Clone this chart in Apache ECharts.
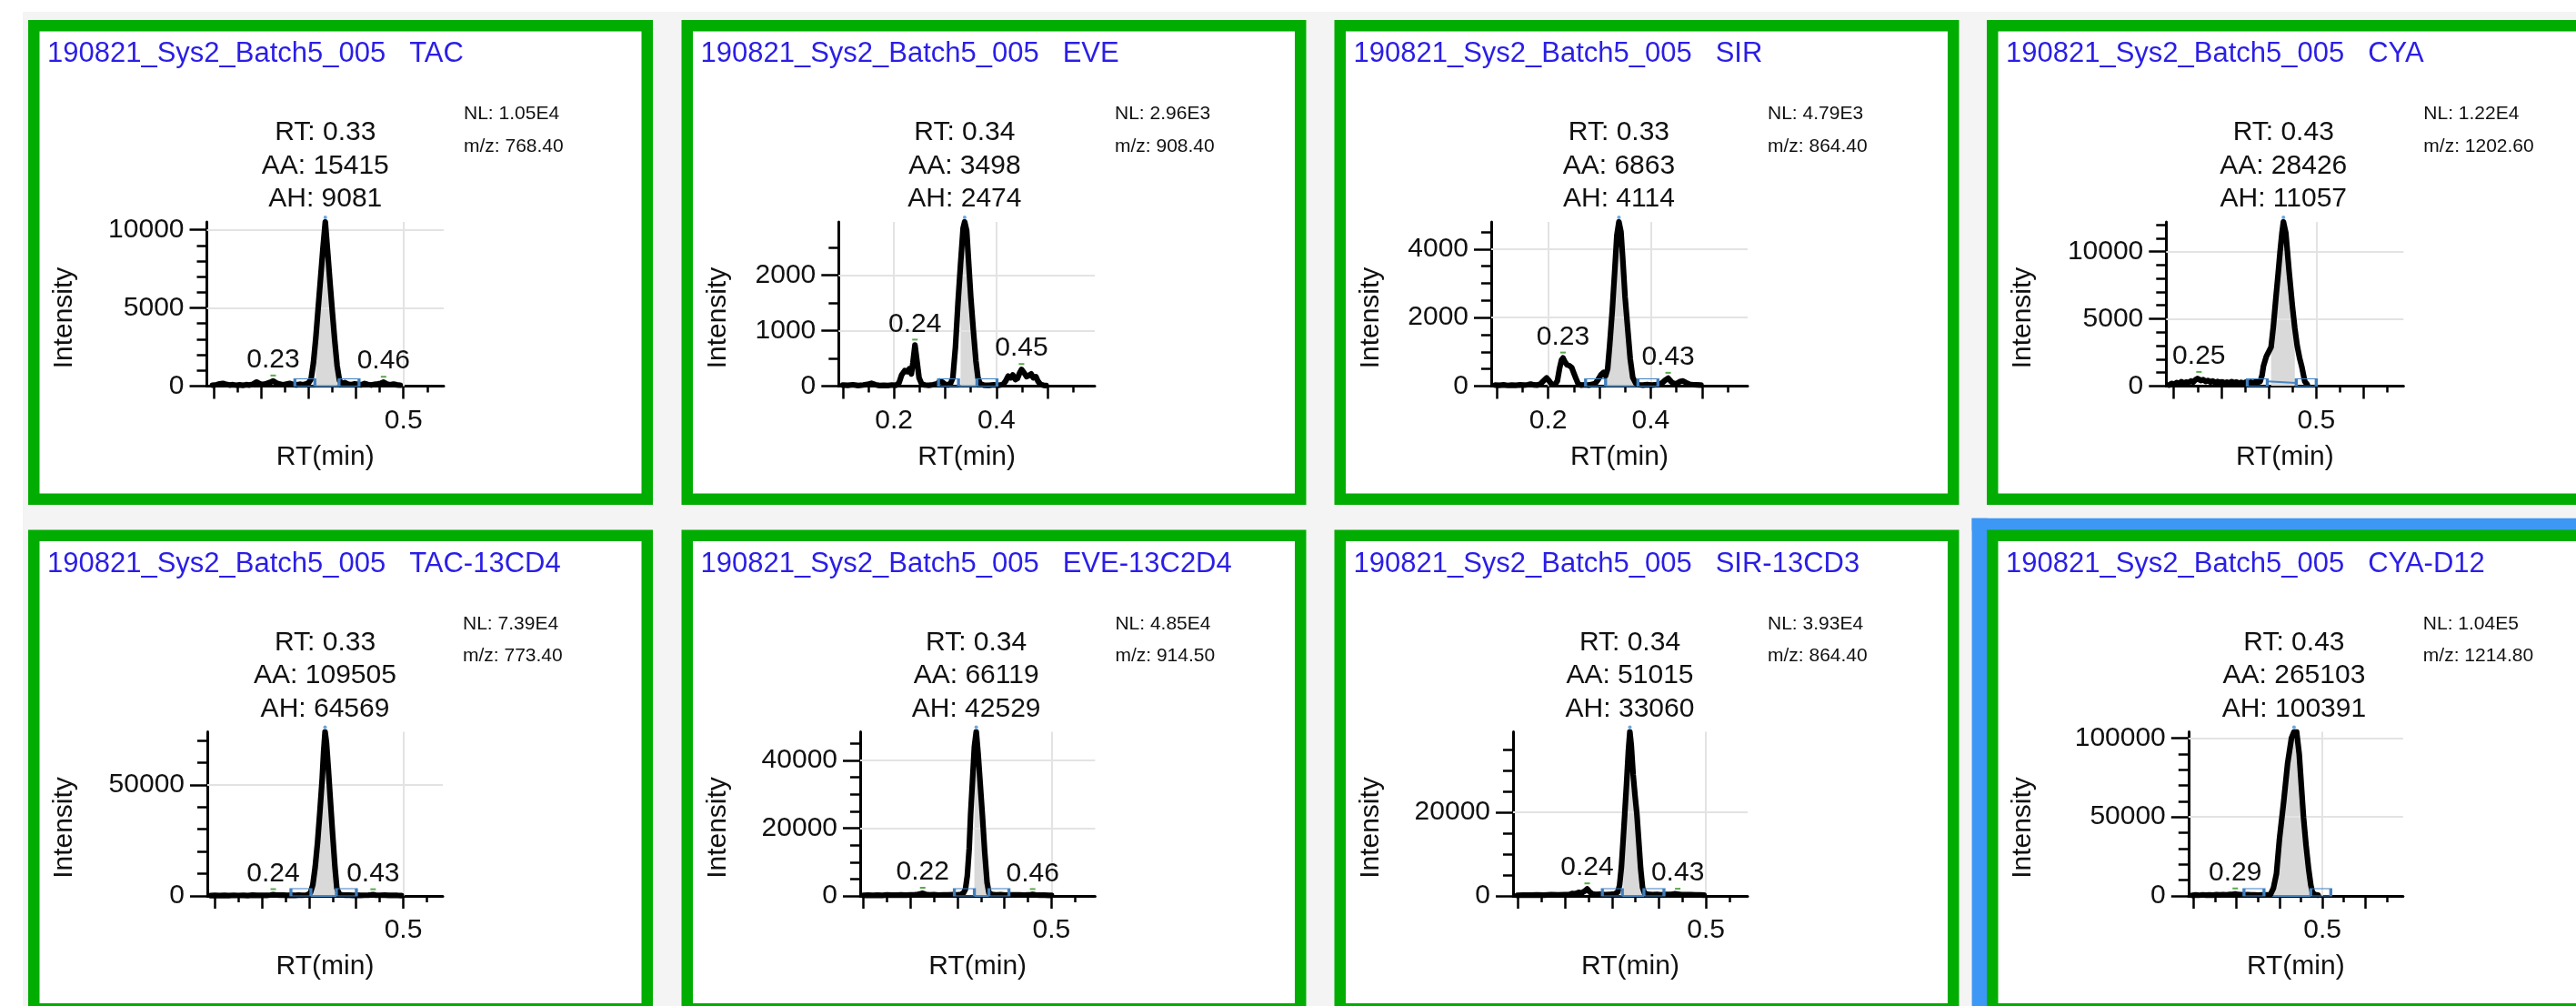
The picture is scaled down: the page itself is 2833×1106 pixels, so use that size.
<!DOCTYPE html>
<html>
<head>
<meta charset="UTF-8">
<title>XIC 190821_Sys2_Batch5_005</title>
<style>
html, body { margin: 0; height: 100%; background: #f4f4f4; }
#container { width: 2833px; height: 1106px; }
</style>
</head>
<body>
<div id="container"></div>
<script src="https://cdn.jsdelivr.net/npm/echarts@6/dist/echarts.min.js"></script>
<script>
var sample = '190821_Sys2_Batch5_005';
var names = ['TAC', 'EVE', 'SIR', 'CYA', 'TAC-13CD4', 'EVE-13C2D4', 'SIR-13CD3', 'CYA-D12'];
var nl = [10500, 2960, 4790, 12200, 73900, 48500, 39300, 104000];
var mz = [768.40, 908.40, 864.40, 1202.60, 773.40, 914.50, 864.40, 1214.80];
var rt = [0.33, 0.34, 0.33, 0.43, 0.33, 0.34, 0.34, 0.43];
var aa = [15415, 3498, 6863, 28426, 109505, 66119, 51015, 265103];
var ah = [9081, 2474, 4114, 11057, 64569, 42529, 33060, 100391];

// axis ranges and tick labels
var xMin = [0.085, 0.092, 0.089, 0.184, 0.084, 0.093, 0.089, 0.188];
var xSpan = 0.5;
var xLabels = [[0.5], [0.2, 0.4], [0.2, 0.4], [0.5], [0.5], [0.5], [0.5], [0.5]];
var yLabels = [[0, 5000, 10000], [0, 1000, 2000], [0, 2000, 4000], [0, 5000, 10000],
               [0, 50000], [0, 20000, 40000], [0, 20000], [0, 50000, 100000]];
var yMinorStep = [1000, 500, 500, 1000, 10000, 5000, 5000, 10000];

// integration limits and baseline heights
var bounds = [[0.313, 0.364], [0.326, 0.362], [0.312, 0.375], [0.397, 0.458],
              [0.304, 0.358], [0.336, 0.367], [0.322, 0.368], [0.364, 0.473]];
var baseY = [[0, 0], [0, 0], [0, 0], [350, 230], [0, 0], [0, 0], [0, 0], [0, 0]];

// small labelled peaks
var peakText = [['0.23', '0.46'], ['0.24', '0.45'], ['0.23', '0.43'], ['0.25'],
                ['0.24', '0.43'], ['0.22', '0.46'], ['0.24', '0.43'], ['0.29']];
var peakAt = [[[0.225, 330], [0.458, 250]], [[0.241, 740], [0.449, 300]], [[0.229, 820], [0.434, 230]], [[0.253, 650]],
              [[0.224, 600], [0.436, 560]], [[0.226, 800], [0.46, 420]], [[0.247, 1700], [0.44, 420]], [[0.297, 1300]]];

// chromatograms [RT, intensity]
var tac = [[0.097,60],[0.105,90],[0.112,140],[0.119,170],[0.126,110],[0.133,70],[0.14,90],[0.147,60],[0.154,80],[0.161,50],[0.168,90],[0.175,70],[0.182,120],[0.19,260],[0.197,150],[0.204,100],[0.211,160],[0.218,230],[0.225,330],[0.232,200],[0.239,120],[0.246,90],[0.253,130],[0.26,170],[0.267,110],[0.274,80],[0.281,120],[0.288,90],[0.295,140],[0.3,220],[0.305,450],[0.31,1500],[0.315,3100],[0.32,5000],[0.325,6900],[0.33,8800],[0.335,10500],[0.34,8600],[0.345,6600],[0.35,4700],[0.355,2900],[0.36,1300],[0.365,350],[0.37,180],[0.376,220],[0.383,130],[0.39,90],[0.397,150],[0.404,110],[0.411,80],[0.418,170],[0.425,100],[0.432,70],[0.439,110],[0.446,140],[0.452,180],[0.458,250],[0.465,130],[0.472,90],[0.479,130],[0.486,80],[0.493,60]];
var eve = [[0.1,20],[0.11,15],[0.12,25],[0.13,10],[0.14,20],[0.148,30],[0.156,50],[0.164,25],[0.172,10],[0.18,15],[0.188,10],[0.196,20],[0.204,15],[0.21,60],[0.215,200],[0.221,280],[0.226,260],[0.23,310],[0.234,220],[0.237,420],[0.241,740],[0.245,450],[0.249,150],[0.254,40],[0.26,20],[0.268,15],[0.276,25],[0.284,40],[0.29,90],[0.295,70],[0.3,30],[0.306,20],[0.311,60],[0.315,150],[0.32,700],[0.325,1500],[0.33,2200],[0.335,2850],[0.338,2960],[0.342,2800],[0.346,2200],[0.35,1600],[0.355,1000],[0.36,450],[0.364,150],[0.368,40],[0.375,20],[0.385,15],[0.395,25],[0.405,15],[0.413,30],[0.418,90],[0.423,180],[0.428,150],[0.432,200],[0.437,120],[0.441,140],[0.445,230],[0.449,300],[0.454,240],[0.459,170],[0.463,190],[0.468,220],[0.472,150],[0.477,170],[0.481,90],[0.486,30],[0.492,15],[0.497,10]];
var sir = [[0.097,30],[0.105,25],[0.113,35],[0.121,20],[0.129,30],[0.137,25],[0.145,35],[0.153,30],[0.16,40],[0.166,60],[0.172,35],[0.178,30],[0.184,50],[0.19,140],[0.197,240],[0.202,150],[0.207,50],[0.213,40],[0.218,150],[0.222,500],[0.226,760],[0.229,820],[0.233,700],[0.237,620],[0.241,600],[0.246,540],[0.25,380],[0.254,230],[0.259,50],[0.265,30],[0.272,40],[0.279,30],[0.286,50],[0.292,80],[0.297,180],[0.303,330],[0.308,400],[0.312,300],[0.316,500],[0.32,1200],[0.325,2200],[0.33,3400],[0.334,4400],[0.338,4790],[0.342,4500],[0.346,3600],[0.35,2600],[0.355,1700],[0.36,800],[0.365,250],[0.371,80],[0.377,40],[0.385,30],[0.393,45],[0.401,30],[0.409,40],[0.416,50],[0.422,90],[0.428,170],[0.434,230],[0.44,130],[0.446,60],[0.452,90],[0.458,140],[0.463,150],[0.469,100],[0.476,50],[0.483,40],[0.49,35],[0.498,30]];
var cya = [[0.19,80],[0.196,200],[0.201,120],[0.206,260],[0.211,180],[0.216,330],[0.221,220],[0.226,300],[0.231,250],[0.236,380],[0.241,300],[0.246,480],[0.25,560],[0.253,650],[0.257,420],[0.262,480],[0.267,350],[0.272,420],[0.277,300],[0.282,380],[0.287,260],[0.292,340],[0.297,280],[0.302,320],[0.307,220],[0.312,300],[0.317,240],[0.322,330],[0.327,250],[0.332,300],[0.337,200],[0.342,280],[0.347,220],[0.352,300],[0.357,240],[0.362,290],[0.367,250],[0.372,320],[0.377,280],[0.382,350],[0.386,800],[0.389,1500],[0.395,2200],[0.405,2900],[0.41,4500],[0.415,6500],[0.42,8400],[0.424,10000],[0.428,11400],[0.431,12200],[0.436,11400],[0.443,8500],[0.45,5900],[0.455,4300],[0.46,3000],[0.465,2100],[0.47,1400],[0.476,350],[0.481,120]];
var tacIS = [[0.091,150],[0.1,230],[0.11,180],[0.12,260],[0.13,170],[0.14,300],[0.15,210],[0.16,270],[0.17,190],[0.18,320],[0.19,240],[0.2,300],[0.21,260],[0.218,420],[0.224,600],[0.23,400],[0.238,320],[0.246,380],[0.254,270],[0.262,350],[0.27,290],[0.278,380],[0.286,300],[0.294,420],[0.299,700],[0.303,1500],[0.308,5000],[0.313,13000],[0.318,24000],[0.323,38000],[0.328,53000],[0.331,65000],[0.334,73900],[0.337,69000],[0.341,57000],[0.345,44000],[0.35,28000],[0.355,13000],[0.359,3500],[0.364,900],[0.37,420],[0.378,320],[0.386,380],[0.394,270],[0.402,340],[0.41,260],[0.418,310],[0.426,380],[0.431,450],[0.436,560],[0.442,380],[0.45,300],[0.46,340],[0.47,260],[0.48,300],[0.488,220],[0.496,180]];
var eveIS = [[0.1,150],[0.11,230],[0.12,170],[0.13,260],[0.14,190],[0.15,280],[0.16,210],[0.17,250],[0.18,310],[0.19,240],[0.2,290],[0.21,350],[0.216,450],[0.221,620],[0.226,800],[0.232,480],[0.24,330],[0.25,380],[0.26,270],[0.27,340],[0.28,300],[0.29,360],[0.3,320],[0.308,480],[0.313,900],[0.317,2000],[0.321,6000],[0.325,14000],[0.328,24000],[0.332,34000],[0.336,44000],[0.34,48500],[0.344,42000],[0.348,34000],[0.353,24000],[0.358,13000],[0.363,4000],[0.367,900],[0.373,450],[0.382,320],[0.392,380],[0.402,260],[0.412,330],[0.422,280],[0.432,320],[0.442,270],[0.451,340],[0.456,360],[0.46,420],[0.466,300],[0.475,260],[0.485,230],[0.495,190],[0.5,160]];
var sirIS = [[0.098,150],[0.11,220],[0.125,180],[0.14,260],[0.155,200],[0.17,300],[0.185,240],[0.2,320],[0.21,380],[0.216,600],[0.222,500],[0.229,850],[0.235,700],[0.241,1100],[0.247,1700],[0.252,1000],[0.258,500],[0.265,350],[0.275,420],[0.285,300],[0.295,380],[0.305,450],[0.312,900],[0.316,2500],[0.32,7000],[0.324,14000],[0.327,19500],[0.331,27000],[0.335,35000],[0.338,39300],[0.341,36000],[0.345,29000],[0.349,24000],[0.353,19500],[0.357,13000],[0.361,6500],[0.365,2000],[0.369,700],[0.376,400],[0.386,320],[0.396,380],[0.406,280],[0.416,340],[0.426,380],[0.433,500],[0.44,420],[0.448,330],[0.458,280],[0.468,300],[0.478,240],[0.488,260],[0.496,200]];
var cyaIS = [[0.197,400],[0.205,600],[0.213,450],[0.221,700],[0.229,500],[0.237,650],[0.245,550],[0.253,800],[0.261,600],[0.269,750],[0.277,650],[0.285,900],[0.291,1000],[0.297,1300],[0.303,900],[0.31,800],[0.318,650],[0.326,800],[0.334,600],[0.342,700],[0.35,550],[0.358,650],[0.366,600],[0.373,700],[0.379,900],[0.386,5000],[0.393,14000],[0.4,36000],[0.41,60000],[0.419,84000],[0.428,100000],[0.434,104000],[0.44,104000],[0.446,90000],[0.452,66000],[0.456,50000],[0.462,32000],[0.468,17000],[0.473,7000],[0.477,2000],[0.483,800],[0.49,500]];
var traces = [tac, eve, sir, cya, tacIS, eveIS, sirIS, cyaIS];

// page layout (pixels)
var colX = [31, 749.5, 1467.5, 2185];
var rowY = [22, 582.5];
var plotL = [227.5, 922.3, 1640, 2382.3, 228, 946, 1664, 2406.8];
var plotR = [488, 1204, 1922, 2643.3, 487, 1204.4, 1922, 2642.8];

var FONT = '"Liberation Sans", Arial, sans-serif';
var GREEN = '#00ad00';
var BLUE_TXT = '#2a1ee6';

function r3(v) { return Math.round(v * 1000) / 1000; }
function nlText(v) { return v.toExponential(2).replace('e+', 'E'); }

var grids = [], xAxes = [], yAxes = [], series = [];
var graphics = [
    { type: 'rect', z: -20, shape: { x: 0, y: 0, width: 2833, height: 13 }, style: { fill: '#fff' } },
    { type: 'rect', z: -20, shape: { x: 0, y: 0, width: 25, height: 1106 }, style: { fill: '#fff' } },
    { type: 'rect', z: -19, shape: { x: 2168.6, y: 569.7, width: 17, height: 600 }, style: { fill: '#3d97f5' } },
    { type: 'rect', z: -19, shape: { x: 2168.6, y: 569.7, width: 700, height: 13.5 }, style: { fill: '#3d97f5' } }
];

names.forEach(function (name, i) {
    var col = i % 4, row = Math.floor(i / 4);
    var ox = colX[col], oy = rowY[row];
    var x0 = xMin[i], x1 = xMin[i] + xSpan;

    graphics.push({ type: 'rect', z: -18, shape: { x: ox + 6.25, y: oy + 6.25, width: 674.5, height: 520.5 },
        style: { fill: '#fff', stroke: GREEN, lineWidth: 12.5 } });
    graphics.push({ type: 'text', z: 50, x: ox + 21, y: oy + 37.5,
        style: { text: sample + '   ' + name, fontSize: 31, fontFamily: FONT, fill: BLUE_TXT,
                 align: 'left', verticalAlign: 'middle', textAlign: 'left', textVerticalAlign: 'middle' } });
    graphics.push({ type: 'text', z: 50, x: plotR[i] + 22, y: oy + 103.3,
        style: { text: 'NL: ' + nlText(nl[i]), fontSize: 21, fontFamily: FONT, fill: '#111',
                 align: 'left', verticalAlign: 'middle', textAlign: 'left', textVerticalAlign: 'middle' } });
    graphics.push({ type: 'text', z: 50, x: plotR[i] + 22, y: oy + 139.2,
        style: { text: 'm/z: ' + mz[i].toFixed(2), fontSize: 21, fontFamily: FONT, fill: '#111',
                 align: 'left', verticalAlign: 'middle', textAlign: 'left', textVerticalAlign: 'middle' } });
    graphics.push({ type: 'text', z: 50, x: ox + 40, y: oy + 327.5, rotation: Math.PI / 2,
        style: { text: 'Intensity', fontSize: 30, fontFamily: FONT, fill: '#111',
                 align: 'center', verticalAlign: 'middle', textAlign: 'center', textVerticalAlign: 'middle' } });

    grids.push({ left: plotL[i], top: oy + 222, width: plotR[i] - plotL[i], height: 180.5,
                 containLabel: false, outerBoundsMode: 'none' });

    // tick positions
    var xMajor = [], xMinor = [];
    for (var k = Math.ceil(x0 / 0.05 - 1e-6); k * 0.05 <= x1 + 1e-9; k++) {
        (k % 2 === 0 ? xMajor : xMinor).push(r3(k * 0.05));
    }
    var yMinor = [];
    for (var v = 0; v <= nl[i]; v += yMinorStep[i]) {
        if (yLabels[i].indexOf(v) < 0) yMinor.push(v);
    }

    var tickStyle = { color: '#000', width: 2.5 };
    var labelStyle = { fontSize: 30, color: '#111', fontFamily: FONT };

    xAxes.push({
        type: 'value', gridIndex: i, position: 'bottom', min: x0, max: x1,
        axisLine: { show: true, onZero: false, lineStyle: { color: '#000', width: 3 } },
        axisTick: { show: true, customValues: xMajor, length: 14, lineStyle: tickStyle },
        axisLabel: Object.assign({ show: true, customValues: xLabels[i], margin: 23,
            formatter: function (val) { return String(r3(val)); } }, labelStyle),
        splitLine: { show: false },
        name: 'RT(min)', nameLocation: 'middle', nameGap: 63,
        nameTextStyle: labelStyle
    });
    xAxes.push({
        type: 'value', gridIndex: i, position: 'bottom', min: x0, max: x1,
        axisLine: { show: false },
        axisTick: { show: true, customValues: xMinor, length: 7, lineStyle: tickStyle },
        axisLabel: { show: false }, splitLine: { show: false }
    });
    yAxes.push({
        type: 'value', gridIndex: i, position: 'left', min: 0, max: nl[i],
        axisLine: { show: true, onZero: false, lineStyle: { color: '#000', width: 3 } },
        axisTick: { show: true, customValues: yLabels[i], length: 19, lineStyle: tickStyle },
        axisLabel: Object.assign({ show: true, customValues: yLabels[i], margin: 25,
            formatter: function (val) { return String(val); } }, labelStyle),
        splitLine: { show: false }
    });
    yAxes.push({
        type: 'value', gridIndex: i, position: 'left', min: 0, max: nl[i],
        axisLine: { show: false },
        axisTick: { show: true, customValues: yMinor, length: 11, lineStyle: tickStyle },
        axisLabel: { show: false }, splitLine: { show: false }
    });

    var data = traces[i];
    var b = bounds[i];
    var fill = data.filter(function (p) { return p[0] >= b[0] && p[0] <= b[1]; });
    var apex = data.reduce(function (m, p) { return p[1] > m[1] ? p : m; }, data[0]);

    var gridLines = xLabels[i].map(function (x) { return { xAxis: x }; })
        .concat(yLabels[i].filter(function (y) { return y > 0; }).map(function (y) { return { yAxis: y }; }));

    var ax = { xAxisIndex: 2 * i, yAxisIndex: 2 * i };

    series.push(Object.assign({
        type: 'line', data: fill, symbol: 'none', silent: true, z: 3,
        lineStyle: { width: 0 }, areaStyle: { color: '#d9d9d9', opacity: 1 },
        markLine: { silent: true, symbol: ['none', 'none'], label: { show: false }, animation: false,
            lineStyle: { color: '#e3e3e3', width: 2, type: 'solid' }, data: gridLines }
    }, ax));
    series.push(Object.assign({
        type: 'line', data: [[b[0], baseY[i][0]], [b[1], baseY[i][1]]], symbol: 'none', silent: true, z: 4,
        lineStyle: { color: '#4a86c0', width: 2 }
    }, ax));
    series.push(Object.assign({
        type: 'line', data: data, symbol: 'none', silent: true, z: 10,
        lineStyle: { color: '#000', width: 6.2, join: 'round', cap: 'round' },
        markPoint: {
            silent: true, animation: false, symbol: 'circle', symbolSize: 4, symbolOffset: [0, -5],
            itemStyle: { color: '#6fa8dc' },
            label: { show: true, position: 'top', distance: 0, fontSize: 30, lineHeight: 36.5,
                color: '#111', fontFamily: FONT, align: 'center',
                formatter: function () { return 'RT: ' + rt[i].toFixed(2) + '\nAA: ' + aa[i] + '\nAH: ' + ah[i]; } },
            data: [{ coord: [apex[0], nl[i]] }]
        }
    }, ax));
    series.push(Object.assign({
        type: 'scatter', silent: true, z: 11, symbol: 'rect', symbolSize: [22, 8],
        itemStyle: { color: 'rgba(255,255,255,0)', borderColor: '#3f7fbf', borderWidth: 2, opacity: 1 },
        data: [{ value: [b[0], 0], symbolOffset: [-11, -4] }, { value: [b[1], 0], symbolOffset: [11, -4] }]
    }, ax));
    series.push(Object.assign({
        type: 'scatter', silent: true, z: 12, symbol: 'rect', symbolSize: [6, 2], symbolOffset: [0, -6],
        itemStyle: { color: '#5aa84a', opacity: 1 },
        label: { show: true, position: 'top', distance: 1, fontSize: 30, color: '#111', fontFamily: FONT },
        data: peakAt[i].map(function (p, j) {
            return { value: p, label: { formatter: peakText[i][j] } };
        })
    }, ax));
});

var dom = document.getElementById('container');
var myChart = echarts.init(dom);
var option = {
    animation: false,
    graphic: { elements: graphics },
    grid: grids,
    xAxis: xAxes,
    yAxis: yAxes,
    series: series
};
myChart.setOption(option, true);
</script>
</body>
</html>
